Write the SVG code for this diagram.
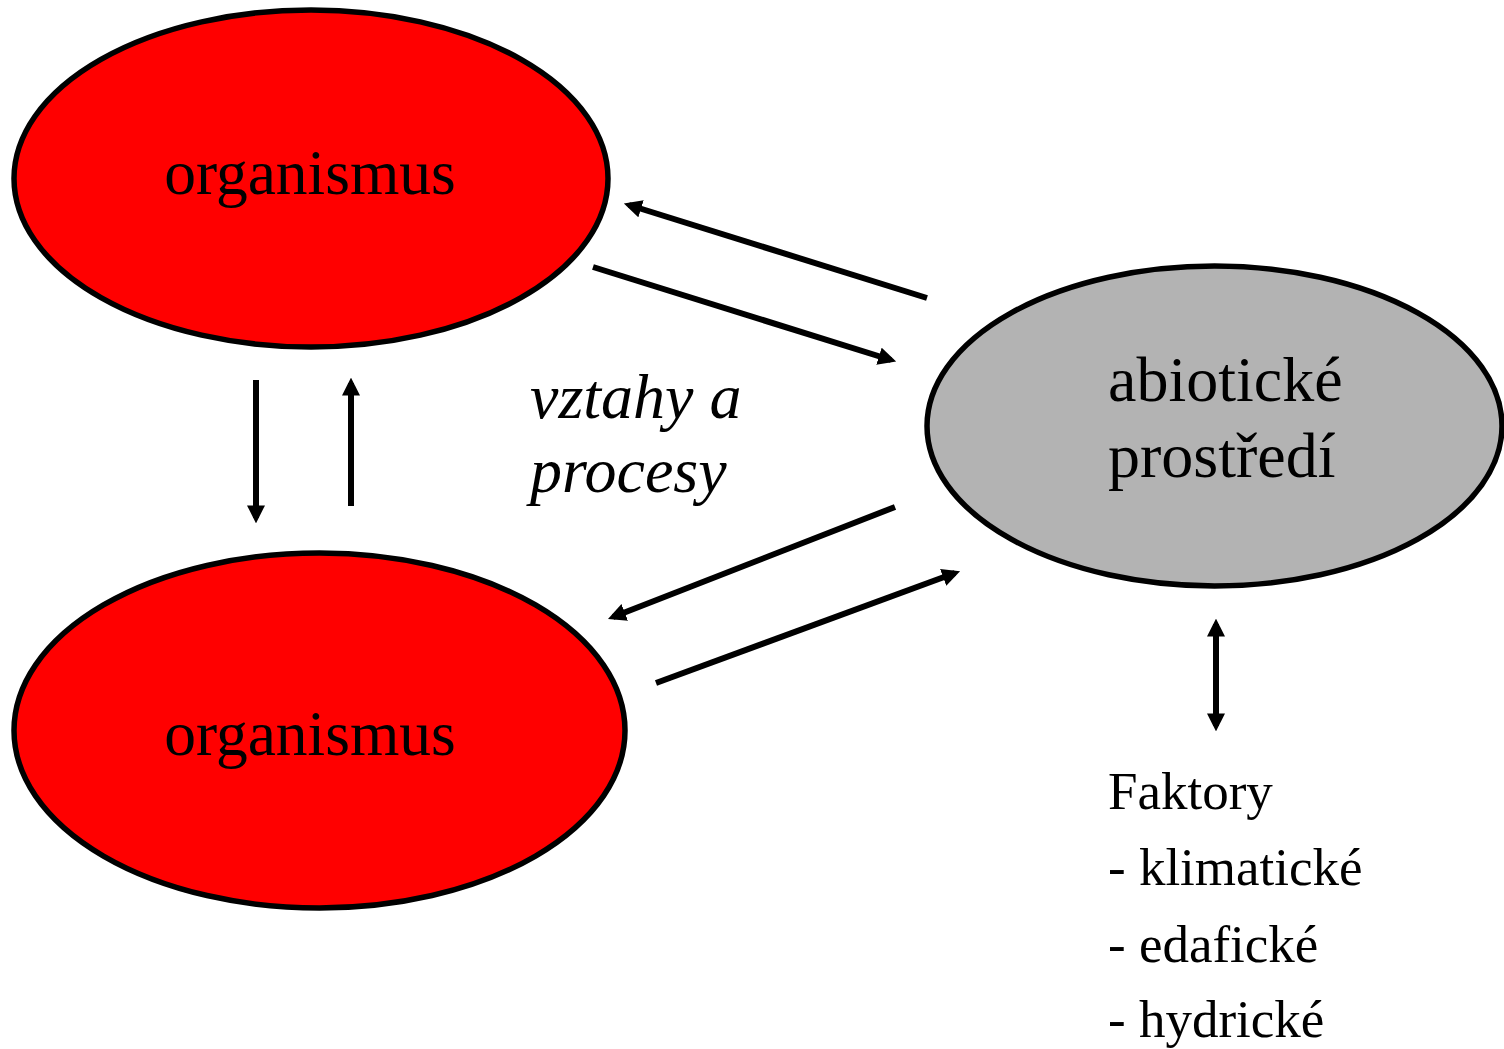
<svg xmlns="http://www.w3.org/2000/svg" width="1504" height="1049" viewBox="0 0 1504 1049">
<style>
.node{stroke:#000;stroke-width:5.5}
.t{font-family:"Liberation Serif","Times New Roman",serif;fill:#000}
.c line{stroke:#000;stroke-width:6;fill:none}
</style>
<defs>
<marker id="ah" viewBox="0 0 10 10" refX="7" refY="5" markerWidth="3" markerHeight="3" orient="auto-start-reverse" markerUnits="strokeWidth">
<path d="M0,0 L10,5 L0,10 z" fill="#000"/>
</marker>
</defs>
<rect width="1504" height="1049" fill="#fff"/>
<g id="org1">
<ellipse class="node" cx="311" cy="178.5" rx="297" ry="168.5" fill="#ff0000"/>
<text class="t" x="310" y="194" font-size="63.5" text-anchor="middle">organismus</text>
</g>
<g id="org2">
<ellipse class="node" cx="319.5" cy="730.5" rx="305.5" ry="177.5" fill="#ff0000"/>
<text class="t" x="310" y="755" font-size="63.5" text-anchor="middle">organismus</text>
</g>
<g id="abio">
<ellipse class="node" cx="1214.5" cy="426" rx="287.5" ry="160" fill="#b3b3b3"/>
<text class="t" x="1108" y="401" font-size="64">abiotické</text>
<text class="t" x="1108" y="477" font-size="64">prostředí</text>
</g>
<g id="label">
<text class="t" x="530" y="418" font-size="64" font-style="italic">vztahy a</text>
<text class="t" x="530" y="492" font-size="64" font-style="italic">procesy</text>
</g>
<g id="faktory">
<text class="t" x="1108" y="809" font-size="53">Faktory</text>
<text class="t" x="1108" y="885" font-size="53">- klimatické</text>
<text class="t" x="1108" y="962" font-size="53">- edafické</text>
<text class="t" x="1108" y="1037" font-size="53">- hydrické</text>
</g>
<g class="c" id="connectors">
<line x1="927" y1="298" x2="629" y2="205" marker-end="url(#ah)"/>
<line x1="593" y1="267" x2="891" y2="360" marker-end="url(#ah)"/>
<line x1="895" y1="507" x2="613" y2="617" marker-end="url(#ah)"/>
<line x1="656" y1="683" x2="955" y2="573" marker-end="url(#ah)"/>
<line x1="256" y1="380" x2="256" y2="518" marker-end="url(#ah)"/>
<line x1="351" y1="506" x2="351" y2="383" marker-end="url(#ah)"/>
<line x1="1216" y1="624" x2="1216" y2="726" marker-start="url(#ah)" marker-end="url(#ah)"/>
</g>
</svg>
